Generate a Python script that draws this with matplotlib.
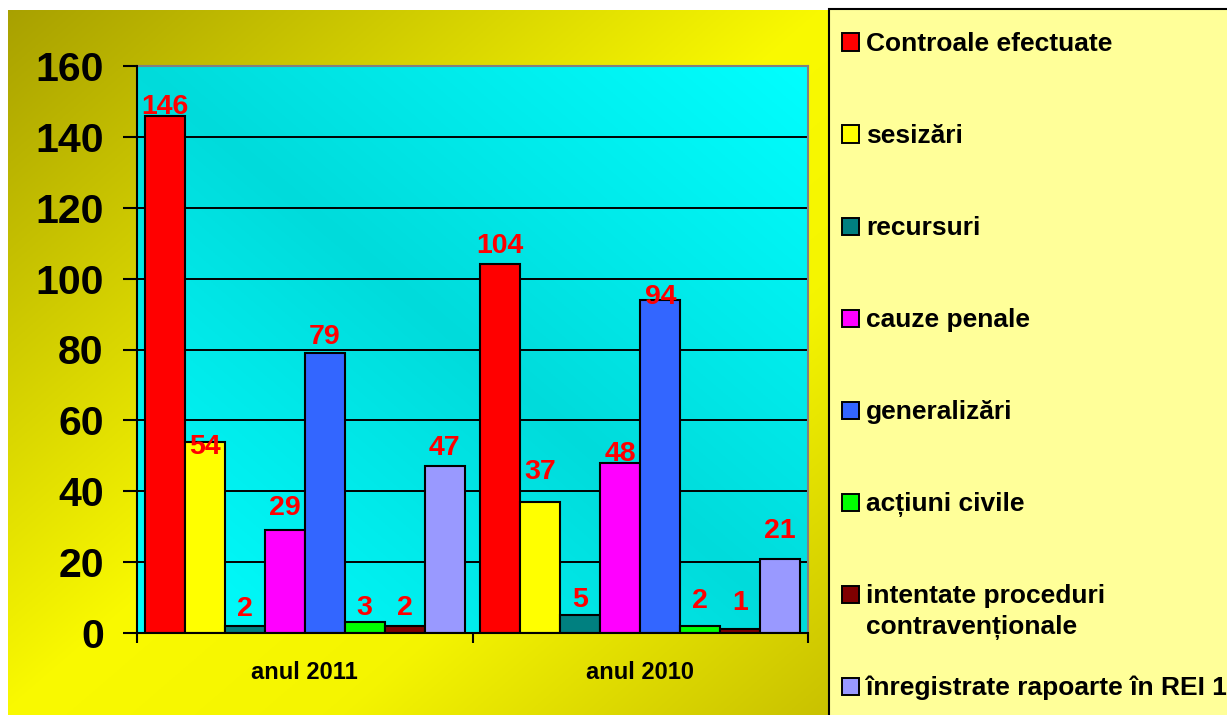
import numpy as np
import matplotlib
matplotlib.use('Agg')
import matplotlib.pyplot as plt
from matplotlib.patches import Rectangle

plt.rcParams['font.family'] = ['Liberation Sans', 'DejaVu Sans']
plt.rcParams['font.weight'] = 'bold'

# data
categories = ['anul 2011', 'anul 2010']
series = ['Controale efectuate', 'sesizări', 'recursuri', 'cauze penale',
          'generalizări', 'acțiuni civile',
          'intentate proceduri\ncontravenționale',
          'înregistrate rapoarte în REI 1']
values_2011 = [146, 54, 2, 29, 79, 3, 2, 47]
values_2010 = [104, 37, 5, 48, 94, 2, 1, 21]
colors = ['#FF0000', '#FFFF00', '#008080', '#FF00FF',
          '#3366FF', '#00FF00', '#800000', '#9999FF']

# distance (px) of each value label above its bar top, as in the original
label_dy_2011 = [12, -2.5, 20, 25.5, 18.7, 17.7, 21, 21.7]
label_dy_2010 = [21, 32.3, 18.6, 11.7, 5.3, 28, 29, 30]

W, H = 1227, 715
fig = plt.figure(figsize=(W / 100, H / 100), dpi=100, facecolor='white')


def px(x, y):
    # pixel position (from top-left) -> figure fraction
    return x / W, 1 - y / H


# outer yellow gradient background
bg = fig.add_axes([8 / W, 0, (828 - 8) / W, (H - 10) / H])
gx, gy = np.meshgrid(np.linspace(0, 1, 300), np.linspace(0, 1, 300))
d = (gx + gy) / 2
r = np.interp(d, [0, 0.5, 0.7, 1], [0.66, 0.98, 0.96, 0.79])
g = np.interp(d, [0, 0.5, 0.7, 1], [0.63, 0.98, 0.96, 0.76])
bg.imshow(np.dstack([r, g, np.zeros_like(r)]), aspect='auto',
          extent=[0, 1, 0, 1], origin='upper')
bg.set_axis_off()

# main chart
left, bottom = px(137, 633)
_, top = px(0, 66)
right = 808 / W
ax = fig.add_axes([left, bottom, right - left, top - bottom])
ax.patch.set_visible(False)

e = (gx + (1 - gy)) / 2
c = np.interp(e, [0, 0.5, 1], [1.0, 0.86, 1.0])
ax.imshow(np.dstack([np.zeros_like(c), c, c]), aspect='auto',
          extent=[0, 1, 0, 1], origin='upper', transform=ax.transAxes,
          zorder=0)

n = len(series)
bar_w = 40 / 335.5
x = np.arange(len(categories))
start = x - n * bar_w / 2

groups = [values_2011, values_2010]
dys = [label_dy_2011, label_dy_2010]
for j in range(n):
    vals = [grp[j] for grp in groups]
    xs = start + bar_w * (j + 0.5)
    ax.bar(xs, vals, width=bar_w, color=colors[j], edgecolor='black',
           linewidth=1.5, zorder=2)
    for i in range(len(categories)):
        ax.annotate(str(vals[i]), (xs[i], vals[i]),
                    xytext=(0, dys[i][j] - 9.9), textcoords='offset pixels',
                    ha='center', va='baseline', color='#FF0000',
                    fontsize=20.5, fontweight='bold', zorder=5)

ax.set_xlim(-0.5, len(categories) - 0.5)
ax.set_ylim(0, 160)
ax.set_yticks(range(0, 161, 20))
ax.yaxis.grid(True, color='black', linewidth=1.4)
ax.set_axisbelow(True)
for gl in ax.get_ygridlines():
    gl.set_zorder(1)

ax.set_xticks(np.arange(len(categories) + 1) - 0.5)
ax.set_xticklabels([])
ax.set_xticks(x, minor=True)
ax.set_xticklabels(categories, minor=True)
ax.tick_params(axis='x', which='major', length=7, width=1.5, direction='out')
ax.tick_params(axis='x', which='minor', length=0, pad=20.5, labelsize=17)
ax.tick_params(axis='y', length=10, width=1.5, pad=14, labelsize=29.5)
for lab in ax.get_xticklabels(minor=True) + ax.get_yticklabels():
    lab.set_fontweight('bold')

for s in ['left', 'bottom']:
    ax.spines[s].set_color('black')
    ax.spines[s].set_linewidth(1.5)
    ax.spines[s].set_zorder(3)
for s in ['top', 'right']:
    ax.spines[s].set_color('#808080')
    ax.spines[s].set_linewidth(1.5)

# legend box on the right
lx, ly = px(829, 9)
fig.patches.append(Rectangle((lx, -0.05), 0.4, ly + 0.05,
                             transform=fig.transFigure, facecolor='#FFFF99',
                             edgecolor='black', linewidth=1.5, zorder=0))
for k, (name, col) in enumerate(zip(series, colors)):
    cy = 42 + 92 * k
    hx, hy = px(842, cy + 8.5)
    fig.patches.append(Rectangle((hx, hy), 17 / W, 17 / H,
                                 transform=fig.transFigure, facecolor=col,
                                 edgecolor='black', linewidth=1.4, zorder=2))
    for m, line in enumerate(name.split('\n')):
        tx, ty = px(866, cy + 31 * m + 9)
        fig.text(tx, ty, line, fontsize=19, fontweight='bold',
                 ha='left', va='baseline', color='black')

fig.savefig('out.png', dpi=100, facecolor='white')
